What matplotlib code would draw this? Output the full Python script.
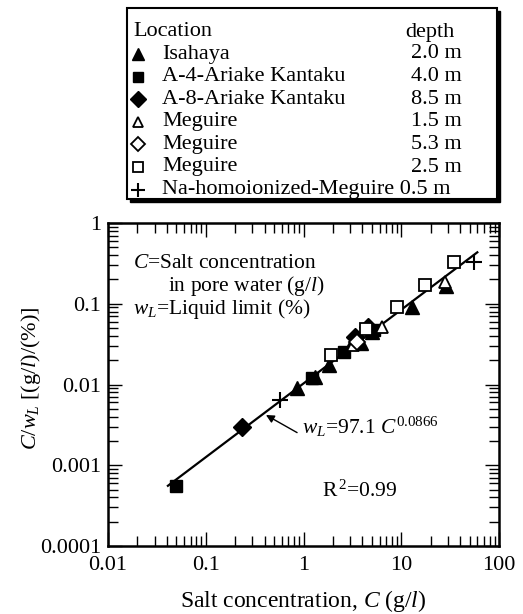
import matplotlib
matplotlib.use('Agg')
import matplotlib.pyplot as plt
import matplotlib.patches as patches
from matplotlib.ticker import FuncFormatter, LogLocator

plt.rcParams['font.family'] = ['Liberation Serif', 'DejaVu Serif']
plt.rcParams['mathtext.fontset'] = 'custom'
plt.rcParams['mathtext.rm'] = 'Liberation Serif'
plt.rcParams['mathtext.it'] = 'Liberation Serif:italic'

# data: salt concentration C (g/l) vs C/wL
isahaya_c = [0.85, 1.3, 1.84, 3.3, 3.9, 5.0, 12.9, 28.8]
isahaya_y = [0.0091, 0.0125, 0.0174, 0.037, 0.033, 0.045, 0.091, 0.166]
a4_c = [0.05, 1.21, 2.62, 5.3]
a4_y = [0.00055, 0.012, 0.0252, 0.047]
a8_c = [0.233, 3.4, 4.6]
a8_y = [0.0030, 0.039, 0.051]
meg15_c = [3.2, 6.4, 28.1]
meg15_y = [0.031, 0.0515, 0.186]
meg53_c = [3.5]
meg53_y = [0.034]
meg25_c = [1.93, 4.4, 9.1, 17.6, 34.7]
meg25_y = [0.0235, 0.0487, 0.091, 0.171, 0.33]
na_c = [0.58, 55.6]
na_y = [0.0064, 0.33]

# regression wL = 97.1 C^0.0866  ->  C/wL = C^(1-0.0866)/97.1
fit_a = 97.1
fit_b = 0.0866
fit_c = [0.041, 60.0]

legend_names = ['Isahaya', 'A-4-Ariake Kantaku', 'A-8-Ariake Kantaku',
                'Meguire', 'Meguire', 'Meguire']
legend_depths = ['2.0 m', '4.0 m', '8.5 m', '1.5 m', '5.3 m', '2.5 m']

W, H = 523, 614
fig = plt.figure(figsize=(W / 100, H / 100), dpi=100)

def fx(px):
    return px / W

def fy(py):
    return 1 - py / H

ax = fig.add_axes([fx(108), fy(546), fx(499) - fx(108), fy(223) - fy(546)])
ax.set_xscale('log')
ax.set_yscale('log')
ax.set_xlim(0.01, 100)
ax.set_ylim(0.0001, 1)

fit_y = [c ** (1 - fit_b) / fit_a for c in fit_c]
ax.plot(fit_c, fit_y, color='black', lw=1.6, zorder=2)

styles = [
    (isahaya_c, isahaya_y, dict(marker='^', ms=10, mfc='black', mec='black')),
    (a4_c, a4_y, dict(marker='s', ms=8, mfc='black', mec='black')),
    (a8_c, a8_y, dict(marker='D', ms=9, mfc='black', mec='black')),
    (meg15_c, meg15_y, dict(marker='^', ms=9, mfc='white', mec='black', mew=1.3)),
    (meg53_c, meg53_y, dict(marker='D', ms=8, mfc='white', mec='black', mew=1.3)),
    (meg25_c, meg25_y, dict(marker='s', ms=8.5, mfc='white', mec='black', mew=1.3)),
    (na_c, na_y, dict(marker='+', ms=12, mec='black', mew=1.5)),
]
for xs, ys, st in styles:
    ax.plot(xs, ys, ls='none', zorder=3, **st)

fs = 16
for s in ax.spines.values():
    s.set_linewidth(1.8)
ax.tick_params(which='both', direction='in', top=True, right=True,
               labelsize=fs, width=1.0)
ax.tick_params(which='major', length=10)
ax.tick_params(which='minor', length=7.5)
ax.tick_params(axis='y', pad=5)
ax.tick_params(axis='x', pad=7)
ax.xaxis.set_minor_locator(LogLocator(base=10, subs=range(2, 10)))
ax.yaxis.set_minor_locator(LogLocator(base=10, subs=range(2, 10)))
fmt = FuncFormatter(lambda v, p: '%g' % v)
ax.xaxis.set_major_formatter(fmt)
ax.yaxis.set_major_formatter(fmt)
ax.xaxis.set_minor_formatter(FuncFormatter(lambda v, p: ''))
ax.yaxis.set_minor_formatter(FuncFormatter(lambda v, p: ''))

ax.set_xlabel(r'Salt concentration, $C$ (g/$l$)', fontsize=17)
ax.xaxis.set_label_coords(0.5, -0.13)
ax.set_ylabel(r'$C$/$w_L$ [(g/$l$)/(%)]', fontsize=fs)
ax.yaxis.set_label_coords(-0.165, 0.52)

ts = 15.5
ax.text(0.064, 0.861, r'$C$=Salt concentration', transform=ax.transAxes,
        fontsize=ts, va='baseline')
ax.text(0.153, 0.79, r'in pore water (g/$l$)', transform=ax.transAxes,
        fontsize=ts, va='baseline')
ax.text(0.064, 0.718, r'$w_L$=Liquid limit (%)', transform=ax.transAxes,
        fontsize=ts, va='baseline')

ax.annotate('', xy=(0.39, 0.39 ** (1 - fit_b) / fit_a), xytext=(0.91, 0.00244),
            arrowprops=dict(arrowstyle='-|>', color='black', lw=1.0,
                            mutation_scale=12))
ax.text(0.496, 0.347, r'$w_L$=97.1 $C^{0.0866}$', transform=ax.transAxes,
        fontsize=ts, va='baseline')
ax.text(0.547, 0.152, r'R$^{\,2}$=0.99', transform=ax.transAxes,
        fontsize=ts, va='baseline')

# legend box with drop shadow
shadow = patches.Rectangle((fx(130), fy(202)), fx(500) - fx(130), fy(11) - fy(202),
                           transform=fig.transFigure, facecolor='black',
                           edgecolor='black', zorder=1)
box = patches.Rectangle((fx(127), fy(199)), fx(497) - fx(127), fy(8) - fy(199),
                        transform=fig.transFigure, facecolor='white',
                        edgecolor='black', lw=1.5, zorder=2)
fig.patches.extend([shadow, box])

fig.text(fx(133), fy(32), 'Location', fontsize=fs, va='center', zorder=3)
fig.text(fx(455), fy(32), 'depth', fontsize=fs, va='center', ha='right', zorder=3)
leg_markers = [st for _, _, st in styles]
row0, step = 54, 22.6
for i in range(7):
    ry = row0 + step * i
    st = dict(leg_markers[i])
    st['ms'] = st['ms'] * 0.85
    fig.add_artist(matplotlib.lines.Line2D([fx(138)], [fy(ry)], ls='none',
                                           transform=fig.transFigure, zorder=3, **st))
    if i < 6:
        fig.text(fx(162), fy(ry), legend_names[i], fontsize=fs, va='center', zorder=3)
        fig.text(fx(462), fy(ry), legend_depths[i], fontsize=fs, va='center',
                 ha='right', zorder=3)
    else:
        fig.text(fx(162), fy(ry), 'Na-homoionized-Meguire 0.5 m', fontsize=fs,
                 va='center', zorder=3)

fig.savefig('out.png', dpi=100)
